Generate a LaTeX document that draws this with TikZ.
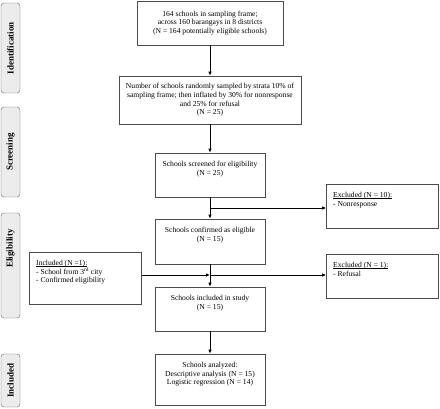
\documentclass[tikz,border=0pt]{standalone}
\usepackage{fontspec}
\setmainfont{Liberation Serif}
\usetikzlibrary{arrows.meta}
\newcommand{\undl}[1]{{\setbox0=\hbox{#1}\leavevmode\rlap{\rule[-1.1pt]{\wd0}{0.4pt}}\box0}}
\tikzset{
  stage/.style={draw=gray!80!black, fill=gray!15, rounded corners=3pt, rotate=90,
    minimum height=19pt, inner sep=0pt, font=\fontsize{9}{10}\selectfont\bfseries},
  box/.style={draw=gray!60!black, line width=0.6pt, minimum width=110pt, minimum height=44pt,
    inner sep=0pt, align=center, font=\fontsize{7.6}{8.6}\selectfont},
  txt/.style={anchor=north, align=center, yshift=-5pt, font=\fontsize{7.6}{8.6}\selectfont},
  txtl/.style={anchor=north west, align=left, yshift=-5pt, xshift=3.5pt, font=\fontsize{7.6}{8.6}\selectfont},
  arr/.style={-{Latex[length=4pt,width=3.5pt]}, line width=0.8pt}
}
\begin{document}
\begin{tikzpicture}[x=1pt,y=-1pt]
  \useasboundingbox (0,0) rectangle (440,408);
  \node[stage, minimum width=90pt] (ident) at (10.5,48) {Identification};
  \node[stage, minimum width=90pt] (screen) at (10.5,152) {Screening};
  \node[stage, minimum width=105pt] (elig) at (10.5,265.5) {\hspace{34pt}Eligibility};
  \node[stage, minimum width=53pt] (incl) at (10.5,380.5) {Included\hspace{9pt}};

  \node[box, minimum width=146pt] (frame) at (210,23)
    {164 schools in sampling frame;\\ across 160 barangays in 8 districts\\ (N = 164 potentially eligible schools)};
  \node[box, minimum width=182pt, minimum height=48pt] (sampled) at (210,100)
    {Number of schools randomly sampled by strata 10\% of\\ sampling frame; then inflated by 30\% for nonresponse\\ and 25\% for refusal\\ (N = 25)};
  \node[box, label={[txt]north:Schools screened for eligibility\\ (N = 25)}] (screened) at (210,175) {};
  \node[box, minimum height=45pt, label={[txt]north:Schools confirmed as eligible\\ (N = 15)}] (eligible) at (210,241.5) {};
  \node[box, label={[txt]north:Schools included in study\\ (N = 15)}] (study) at (210,309) {};
  \node[box, minimum height=51pt, label={[txt]north:Schools analyzed:\\ Descriptive analysis (N = 15)\\ Logistic regression (N = 14)}] (analyzed) at (210,379.5) {};

  \node[box, minimum width=112pt, label={[txtl]north west:\undl{Excluded (N = 10):}\\ - Nonresponse}] (nonresp) at (382.5,206) {};
  \node[box, minimum width=112pt, label={[txtl]north west:\undl{Excluded (N = 1):}\\ - Refusal}] (refusal) at (382.5,276) {};
  \node[box, minimum width=112pt, minimum height=52pt, label={[txtl]north west:\undl{Included (N =1):}\\ - School from 3\textsuperscript{rd} city\\ - Confirmed eligibility}] (added) at (85.5,278) {};

  \coordinate (j1) at (210,208);
  \coordinate (j2) at (210,275);

  \draw[arr] (frame) -- (sampled);
  \draw[arr] (sampled) -- (screened);
  \draw[arr] (screened) -- (eligible);
  \draw[arr] (j1) -- (j1 -| nonresp.west);
  \draw[arr] (eligible) -- (study);
  \draw[arr] (j2) -- (j2 -| refusal.west);
  \draw[arr] (j2 -| added.east) -- (j2);
  \draw[arr] (study) -- (analyzed);
\end{tikzpicture}
\end{document}
